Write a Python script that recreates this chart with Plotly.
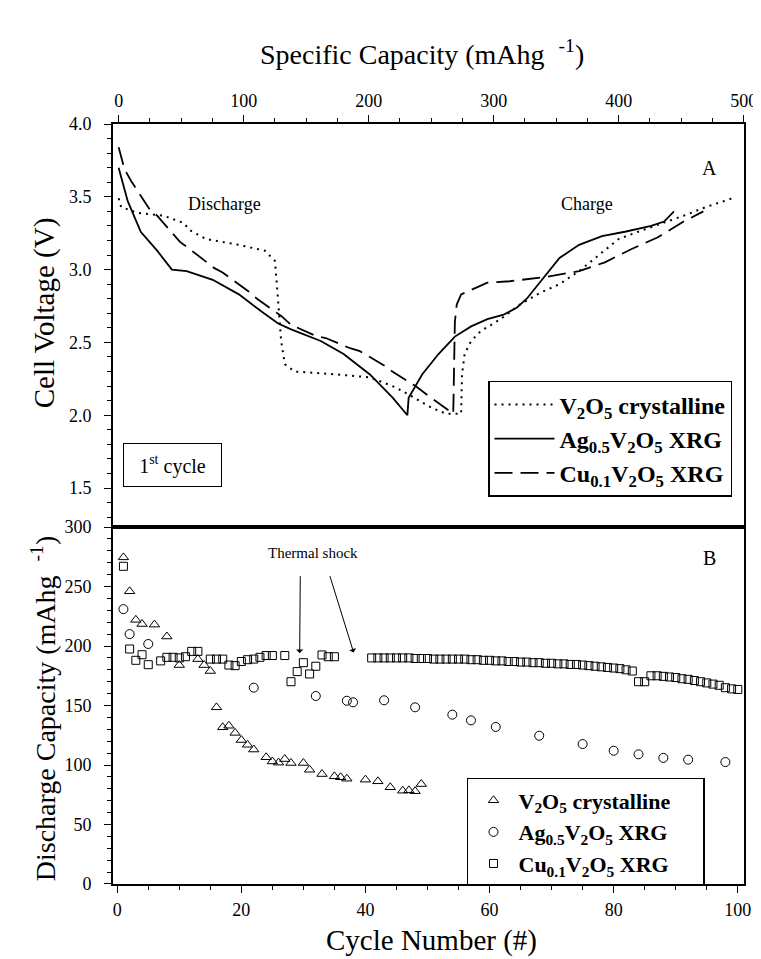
import plotly.graph_objects as go

# ---------------- Panel A: first cycle voltage profiles ----------------
v2o5_cap = [0, 2, 15, 36, 52, 57, 70, 96, 117, 125, 126.4, 128, 130, 133, 140.7, 174.7, 201, 222, 240, 250.6,
            262, 274, 274.7, 276.8, 282, 290, 305.6, 321, 337, 352.7, 368.4, 384, 400, 415.6, 436, 452, 470, 491]
v2o5_v = [3.49, 3.43, 3.39, 3.37, 3.32, 3.27, 3.21, 3.17, 3.13, 3.06, 2.92, 2.74, 2.51, 2.35, 2.30, 2.28, 2.26, 2.19, 2.10, 2.05,
          2.01, 2.01, 2.28, 2.42, 2.51, 2.58, 2.66, 2.76, 2.84, 2.90, 2.99, 3.10, 3.21, 3.26, 3.32, 3.37, 3.43, 3.49]

ag_cap = [0, 7.3, 17.7, 30.8, 42.6, 54.4, 75.3, 96.2, 114.6, 127.6, 138, 161.7, 180, 201, 219.2, 231,
          232, 237.5, 242.8, 255.9, 269, 282, 295, 308, 318.7, 326.5, 339.6, 352.7, 368.4, 386.7, 405, 426, 436.4, 444.3]
ag_v = [3.70, 3.47, 3.26, 3.13, 3.00, 2.99, 2.93, 2.83, 2.71, 2.63, 2.59, 2.51, 2.42, 2.28, 2.12, 2.00,
        2.12, 2.20, 2.28, 2.42, 2.54, 2.61, 2.66, 2.69, 2.74, 2.80, 2.94, 3.08, 3.17, 3.23, 3.26, 3.30, 3.33, 3.40]

cu_cap = [0, 4.7, 9.9, 24.3, 30.8, 49.1, 57, 76.6, 83.2, 104, 110.7, 130.3, 138, 159, 165.6, 185.2, 193, 212.7, 219,
          237.5, 246.7, 267.7, 268.5, 269, 270.5, 274, 282, 295, 313, 342, 368.4, 389, 410, 431, 452, 467.8]
cu_v = [3.84, 3.69, 3.61, 3.42, 3.37, 3.19, 3.14, 3.01, 2.98, 2.85, 2.80, 2.68, 2.62, 2.54, 2.53, 2.46, 2.44, 2.34, 2.30,
        2.20, 2.14, 2.01, 2.40, 2.64, 2.76, 2.83, 2.86, 2.91, 2.92, 2.95, 2.99, 3.05, 3.14, 3.22, 3.33, 3.40]

# ---------------- Panel B: cycling ----------------
tri_cycle = [1, 2, 3, 4, 6, 8, 10, 13, 14, 15, 16, 17, 18, 19, 20, 21, 22, 24, 25, 26, 27, 28, 30, 31, 33,
             35, 36, 37, 40, 42, 44, 46, 47, 48, 49]
tri_cap = [274.5, 246, 222, 218.5, 218, 208, 184, 189, 184, 179, 148.5, 131.7, 133, 127, 121, 117, 113, 106.5, 103, 102,
           105, 101.7, 101.7, 96, 92.4, 90.5, 89.7, 88.5, 87.7, 86.3, 81.3, 78.4, 78.7, 78, 84]

circ_cycle = [1, 2, 5, 22, 32, 37, 38, 43, 48, 54, 57, 61, 68, 75, 80, 84, 88, 92, 98]
circ_cap = [231, 210, 201.7, 165, 158, 154, 152.7, 154.4, 148.5, 142.3, 137.5, 132, 124.6, 117.6, 112, 109, 106, 104.5, 102.5]

sq_cycle = [1, 2, 3, 4, 5, 7, 8, 9, 10, 11, 12, 13, 15, 16, 17, 18, 19, 20, 21, 22, 23, 24, 25, 27,
            28, 29, 30, 31, 32, 33, 34, 35,
            41, 42, 43, 44, 45, 46, 47, 48, 49, 50,
            51, 52, 53, 54, 55, 56, 57, 58, 59, 60,
            61, 62, 63, 64, 65, 66, 67, 68, 69, 70,
            71, 72, 73, 74, 75, 76, 77, 78, 79, 80,
            81, 82, 83, 84, 85, 86, 87, 88, 89, 90,
            91, 92, 93, 94, 95, 96, 97, 98, 99, 100]
sq_cap = [267, 197.5, 188, 192.7, 184.3, 187.5, 190.5, 190.5, 190, 191, 195.5, 195.5, 189, 189, 189, 184, 183.5, 187,
          188.5, 189, 190.5, 192, 192, 192,
          170, 178.5, 186, 176.5, 183, 192.5, 191, 191,
          190, 190, 190, 190, 190, 190, 190, 189.5, 189.5, 189.5,
          189, 189, 189, 189, 189, 189, 188.5, 188.5, 188, 188,
          187.5, 187.5, 187, 187, 186.5, 186.5, 186, 186, 185.5, 185.5,
          185, 185, 184.5, 184.5, 184, 183.5, 183, 182.5, 182, 181.5,
          181, 180, 179, 170, 170, 175, 175, 174.5, 174, 173.5,
          172.5, 172, 171, 170, 169, 168, 167, 165, 164, 163.5]

SERIF = "Liberation Serif, Times New Roman, serif"
series_names = ["<b>V<sub>2</sub>O<sub>5</sub> crystalline</b>",
                "<b>Ag<sub>0.5</sub>V<sub>2</sub>O<sub>5</sub> XRG</b>",
                "<b>Cu<sub>0.1</sub>V<sub>2</sub>O<sub>5</sub> XRG</b>"]
PAD = "&nbsp;" * 5

fig = go.Figure()

fig.add_trace(go.Scatter(x=v2o5_cap, y=v2o5_v, mode="lines", name=series_names[0],
                         line=dict(color="black", width=2, dash="2px,5px"),
                         xaxis="x2", yaxis="y2", legend="legend"))
fig.add_trace(go.Scatter(x=ag_cap, y=ag_v, mode="lines", name=series_names[1],
                         line=dict(color="black", width=1.8),
                         xaxis="x2", yaxis="y2", legend="legend"))
fig.add_trace(go.Scatter(x=cu_cap, y=cu_v, mode="lines", name=series_names[2],
                         line=dict(color="black", width=1.8, dash="18px,8px"),
                         xaxis="x2", yaxis="y2", legend="legend"))

fig.add_trace(go.Scatter(x=tri_cycle, y=tri_cap, mode="markers", name=series_names[0] + PAD,
                         marker=dict(symbol="triangle-up-open", size=9, color="black", line=dict(width=1)),
                         xaxis="x", yaxis="y", legend="legend2"))
fig.add_trace(go.Scatter(x=circ_cycle, y=circ_cap, mode="markers", name=series_names[1] + PAD,
                         marker=dict(symbol="circle-open", size=9, color="black", line=dict(width=1)),
                         xaxis="x", yaxis="y", legend="legend2"))
fig.add_trace(go.Scatter(x=sq_cycle, y=sq_cap, mode="markers", name=series_names[2] + PAD,
                         marker=dict(symbol="square-open", size=8, color="black", line=dict(width=1)),
                         xaxis="x", yaxis="y", legend="legend2"))

axis_common = dict(showgrid=False, zeroline=False, showline=True, linecolor="black", linewidth=2,
                   mirror=True, ticks="outside", tickcolor="black", tickwidth=1, ticklen=7,
                   tickfont=dict(family=SERIF, size=18, color="black"))

fig.update_layout(
    width=761, height=959,
    margin=dict(l=105, r=13, t=116, b=83),
    paper_bgcolor="white", plot_bgcolor="white",
    font=dict(family=SERIF, color="black"),
    showlegend=True,
    xaxis=dict(**axis_common, range=[-0.68, 101.0], dtick=20, tick0=0, anchor="y",
               domain=[0, 1], ticklabelstandoff=1,
               minor=dict(dtick=5, ticklen=4, ticks="outside", tickcolor="black")),
    yaxis=dict(**axis_common, range=[0, 300], dtick=50, tick0=0, domain=[0, 0.4697], anchor="x",
               ticklabelstandoff=9,
               minor=dict(dtick=10, ticklen=4, ticks="outside", tickcolor="black")),
    xaxis2=dict(**axis_common, range=[-4.5, 500.3], dtick=100, tick0=0, anchor="y2", side="top",
                domain=[0, 1], ticklabelstandoff=1,
                minor=dict(dtick=25, ticklen=4, ticks="outside", tickcolor="black")),
    yaxis2=dict(**axis_common, range=[1.232, 4.0], dtick=0.5, tick0=0, tickformat=".1f",
                domain=[0.4697, 1], anchor="x2", ticklabelstandoff=9,
                minor=dict(dtick=0.1, ticklen=4, ticks="outside", tickcolor="black")),
    legend=dict(x=0.981, y=0.662, xanchor="right", yanchor="top", xref="paper", yref="paper",
                bgcolor="white", bordercolor="black", borderwidth=1.5,
                font=dict(family=SERIF, size=24, color="black"), itemwidth=60,
                tracegroupgap=0),
    legend2=dict(x=0.561, y=0.1395, xanchor="left", yanchor="top", xref="paper", yref="paper",
                 bgcolor="white", bordercolor="black", borderwidth=1.5,
                 font=dict(family=SERIF, size=22, color="black"), itemwidth=40,
                 tracegroupgap=0),
)

annots = [
    # axis titles
    dict(text="Specific Capacity (mAhg  <sup>-1</sup>)", xref="paper", yref="paper", x=0.49, y=1.0947,
         showarrow=False, font=dict(family=SERIF, size=28), xanchor="center", yanchor="middle"),
    dict(text="Cycle Number (#)", xref="paper", yref="paper", x=0.5054, y=-0.0737,
         showarrow=False, font=dict(family=SERIF, size=29), xanchor="center", yanchor="middle"),
    dict(text="Cell Voltage (V)", xref="paper", yref="paper", x=-0.1089, y=0.7513, textangle=-90,
         showarrow=False, font=dict(family=SERIF, size=29), xanchor="center", yanchor="middle"),
    dict(text="Discharge Capacity (mAhg  <sup>-1</sup>)", xref="paper", yref="paper", x=-0.1089, y=0.2316,
         textangle=-90, showarrow=False, font=dict(family=SERIF, size=28), xanchor="center", yanchor="middle"),
    # panel A labels
    dict(text="A", xref="x2", yref="y2", x=472.8, y=3.70, showarrow=False, font=dict(family=SERIF, size=20)),
    dict(text="Discharge", xref="x2", yref="y2", x=85, y=3.45, showarrow=False, font=dict(family=SERIF, size=18)),
    dict(text="Charge", xref="x2", yref="y2", x=374.6, y=3.45, showarrow=False, font=dict(family=SERIF, size=18)),
    dict(text="1<sup>st</sup> cycle", xref="x2", yref="y2", x=43.4, y=1.658, showarrow=False,
         font=dict(family=SERIF, size=20), bordercolor="black", borderwidth=1, borderpad=0,
         width=97, height=42, bgcolor="white"),
    # panel B labels
    dict(text="B", xref="x", yref="y", x=95.5, y=274, showarrow=False, font=dict(family=SERIF, size=20)),
    dict(text="Thermal shock", xref="x", yref="y", x=31.5, y=278, showarrow=False, font=dict(family=SERIF, size=15)),
    dict(text="", xref="x", yref="y", x=29.4, y=194, axref="x", ayref="y", ax=29.5, ay=260,
         showarrow=True, arrowhead=1, arrowsize=1.2, arrowwidth=1, arrowcolor="black"),
    dict(text="", xref="x", yref="y", x=38.1, y=194.5, axref="x", ayref="y", ax=34.2, ay=260,
         showarrow=True, arrowhead=1, arrowsize=1.2, arrowwidth=1, arrowcolor="black"),
]
for a in annots:
    fig.add_annotation(**a)

fig.write_html("out.html")
